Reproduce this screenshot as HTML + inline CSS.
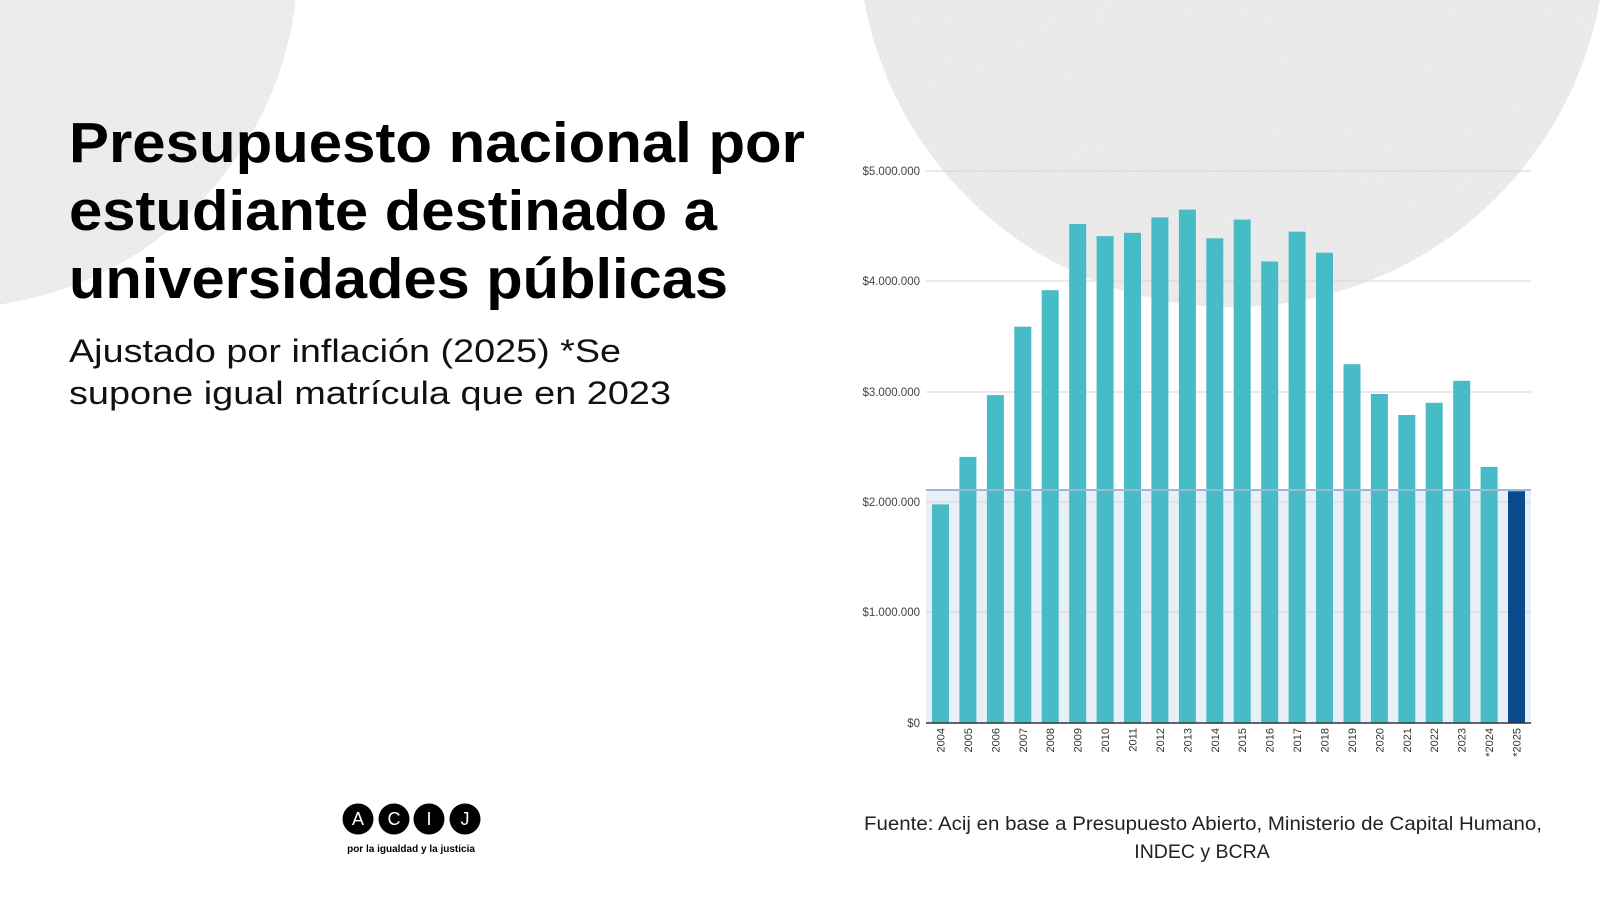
<!DOCTYPE html>
<html><head><meta charset="utf-8"><style>
html,body{margin:0;padding:0;background:#fff;}
svg{display:block}
</style></head><body>
<svg width="1600" height="900" viewBox="0 0 1600 900" xmlns="http://www.w3.org/2000/svg" font-family="Liberation Sans, sans-serif">
<defs>
<filter id="n" x="0" y="0" width="100%" height="100%">
<feTurbulence type="fractalNoise" baseFrequency="0.9" numOctaves="2" seed="3" result="t"/>
<feColorMatrix in="t" type="matrix" values="0 0 0 0 0.6  0 0 0 0 0.6  0 0 0 0 0.6  0 0 0 0.9 -0.3" result="g"/>
<feComposite in="g" in2="SourceGraphic" operator="in" result="gc"/>
<feMerge><feMergeNode in="SourceGraphic"/><feMergeNode in="gc"/></feMerge>
</filter>
</defs>
<rect width="1600" height="900" fill="#fff"/>
<circle cx="-50" cy="-40" r="348" fill="#f1f1f1" filter="url(#n)"/>
<circle cx="1232" cy="-67" r="374" fill="#efefef" filter="url(#n)"/>

<!-- title -->
<g font-weight="bold" font-size="57" fill="#000">
<text x="69" y="162" textLength="736" lengthAdjust="spacingAndGlyphs">Presupuesto nacional por</text>
<text x="69" y="230" textLength="648" lengthAdjust="spacingAndGlyphs">estudiante destinado a</text>
<text x="69" y="298" textLength="659" lengthAdjust="spacingAndGlyphs">universidades públicas</text>
</g>
<g font-size="32" fill="#111">
<text x="69" y="362" textLength="552" lengthAdjust="spacingAndGlyphs">Ajustado por inflación (2025) *Se</text>
<text x="69" y="404" textLength="602" lengthAdjust="spacingAndGlyphs">supone igual matrícula que en 2023</text>
</g>

<!-- chart -->
<rect x="926" y="490" width="605" height="233" fill="#e9eff7"/>
<g stroke="#d6d6d6" stroke-width="1">
<line x1="926" y1="171" x2="1531" y2="171"/>
<line x1="926" y1="281" x2="1531" y2="281"/>
<line x1="926" y1="392" x2="1531" y2="392"/>
<line x1="926" y1="502" x2="1531" y2="502"/>
<line x1="926" y1="612" x2="1531" y2="612"/>
</g>
<g font-size="11.5" fill="#444" text-anchor="end">
<text x="920" y="175">$5.000.000</text>
<text x="920" y="285">$4.000.000</text>
<text x="920" y="396">$3.000.000</text>
<text x="920" y="506">$2.000.000</text>
<text x="920" y="616">$1.000.000</text>
<text x="920" y="727">$0</text>
</g>
<g id="bars" fill="#47bcc6"></g>
<line x1="926" y1="490" x2="1531" y2="490" stroke="#9db6dc" stroke-width="2"/>
<line x1="926" y1="723" x2="1531" y2="723" stroke="#333" stroke-width="1.5"/>
<g id="xl" font-size="11" fill="#333"></g>

<!-- logo -->
<g>
<circle cx="358" cy="819" r="15.5" fill="#000"/>
<circle cx="394" cy="819" r="15.5" fill="#000"/>
<circle cx="429" cy="819" r="15.5" fill="#000"/>
<circle cx="465" cy="819" r="15.5" fill="#000"/>
<g fill="#fff" font-size="18" text-anchor="middle">
<text x="358" y="825">A</text><text x="394" y="825">C</text><text x="429" y="825">I</text><text x="465" y="825">J</text>
</g>
<text x="411" y="852" font-size="10" font-weight="bold" text-anchor="middle" fill="#000">por la igualdad y la justicia</text>
</g>

<g font-size="19.5" fill="#222">
<text x="864" y="830" textLength="678" lengthAdjust="spacingAndGlyphs">Fuente: Acij en base a Presupuesto Abierto, Ministerio de Capital Humano,</text>
<text x="1202" y="858" text-anchor="middle">INDEC y BCRA</text>
</g>
</svg>
<script>
var v=[1.98,2.41,2.97,3.59,3.92,4.52,4.41,4.44,4.58,4.65,4.39,4.56,4.18,4.45,4.26,3.25,2.98,2.79,2.90,3.10,2.32,2.10];
var ns="http://www.w3.org/2000/svg",b=document.getElementById("bars"),xl=document.getElementById("xl");
for(var i=0;i<v.length;i++){
 var x=932+i*27.43,h=v[i]*110.4;
 var r=document.createElementNS(ns,"rect");
 r.setAttribute("x",x.toFixed(1));r.setAttribute("y",(723-h).toFixed(1));
 r.setAttribute("width","17");r.setAttribute("height",h.toFixed(1));
 if(i==21)r.setAttribute("fill","#0b4a8f");
 b.appendChild(r);
 var t=document.createElementNS(ns,"text");
 var lab=(i>=20?"*":"")+(2004+i);
 var cx=x+8.5+4;
 t.setAttribute("transform","translate("+cx.toFixed(1)+",728) rotate(-90)");
 t.setAttribute("text-anchor","end");
 t.textContent=lab;xl.appendChild(t);
}
</script>
</body></html>
